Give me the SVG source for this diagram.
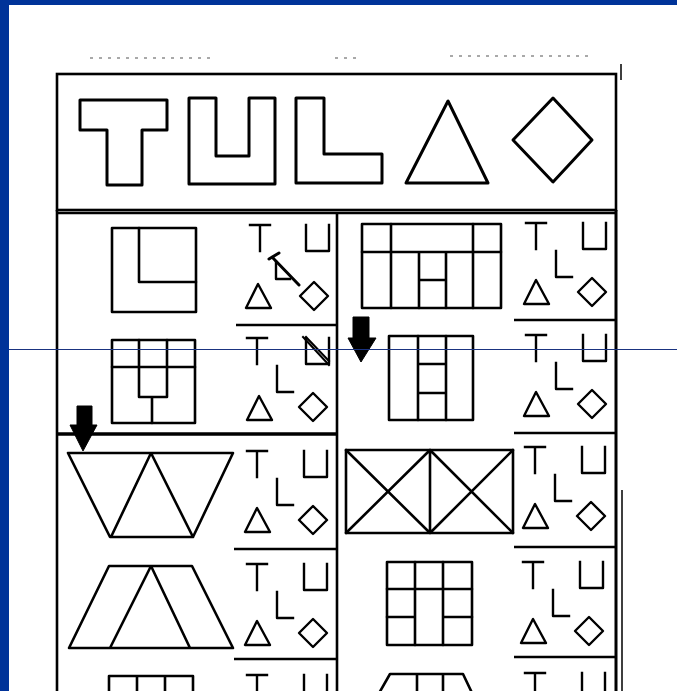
<svg xmlns="http://www.w3.org/2000/svg" xmlns:xlink="http://www.w3.org/1999/xlink" width="677" height="691" viewBox="0 0 677 691">
<style>
.ln{fill:none;stroke:#000;stroke-width:2.6;stroke-linejoin:round;stroke-linecap:round}
.hd{fill:none;stroke:#000;stroke-width:3;stroke-linejoin:round}
.sy{fill:none;stroke:#000;stroke-width:2.4;stroke-linejoin:round;stroke-linecap:square}
.fr{fill:none;stroke:#000;stroke-width:2.6}
.ar{fill:#000;stroke:#000;stroke-width:1}
.nz{fill:none;stroke:#555;stroke-width:1.2;stroke-dasharray:3 6}
</style>
<defs>
<g id="symT"><path class="sy" d="M0,0 H20 M10,0 V26"/></g>
<g id="symU"><path class="sy" d="M0,0 V26 H23 V0"/></g>
<g id="symL"><path class="sy" d="M0,0 V26 H16"/></g>
<g id="symTri"><path class="sy" d="M12,0 L0,24 H25 Z"/></g>
<g id="symDia"><path class="sy" d="M0,-14 L14,0 L0,14 L-14,0 Z"/></g>
<g id="syms">
<use xlink:href="#symT" x="0" y="0"/>
<use xlink:href="#symU" x="57" y="0"/>
<use xlink:href="#symL" x="30" y="28"/>
<use xlink:href="#symTri" x="-2" y="57"/>
<use xlink:href="#symDia" x="66" y="69"/>
</g>
</defs>
<rect width="677" height="691" fill="#fff"/>
<g id="background-frame">
<rect x="0" y="0" width="677" height="5" fill="#003399"/>
<rect x="0" y="0" width="9" height="691" fill="#003399"/>
<path class="nz" d="M90,58 H212 M335,58 H356 M450,56 H592"/>
</g>
<g id="header">
<rect class="fr" x="57" y="74" width="559" height="136"/>
<path class="hd" d="M80,100 H167 V130 H142 V185 H107 V130 H80 Z"/>
<path class="hd" d="M189,98 H216 V156 H249 V98 H275 V184 H189 Z"/>
<path class="hd" d="M296,98 H324 V154 H382 V183 H296 Z"/>
<path class="hd" d="M448,101 L406,183 H488 Z"/>
<path class="hd" d="M553,98 L592,140 L553,182 L513,140 Z"/>
</g>
<g id="grid">
<path class="fr" d="M57,213 H616"/>
<path class="fr" d="M57,210 V691"/>
<path class="fr" d="M616,210 V691" style="stroke-width:3"/>
<path class="fr" d="M337,213 V691"/>
<path class="fr" d="M57,434 H337" style="stroke-width:3.5"/>
<path class="fr" d="M236,325 H337 M234,549 H337 M234,659 H337"/>
<path class="fr" d="M514,320 H616 M514,433 H616 M514,547 H616 M514,657 H616"/>
<path class="fr" d="M622,490 V691 M621,64 V80" style="stroke-width:1.5"/>
</g>
<g id="cell-l1">
<rect class="ln" x="112" y="228" width="84" height="84"/>
<path class="ln" d="M139,228 V282 H196"/>
<use xlink:href="#symT" x="250" y="225"/>
<use xlink:href="#symU" x="306" y="225"/>
<use xlink:href="#symTri" x="246" y="284"/>
<use xlink:href="#symDia" x="314" y="296"/>
<path class="sy" d="M276,262 V279 H290"/>
<path class="ln" d="M272,257 L299,285 M269,259 L279,253" style="stroke-width:3"/>
</g>
<g id="cell-l2">
<rect class="ln" x="112" y="340" width="83" height="83"/>
<path class="ln" d="M112,367 H195 M139,340 V397 H167 V340 M152,397 V423"/>
<use xlink:href="#symT" x="247" y="338"/>
<use xlink:href="#symU" x="306" y="338"/>
<path class="sy" d="M303,337 L329,365 M306,337 L329,361" style="stroke-width:2"/>
<use xlink:href="#symL" x="277" y="366"/>
<use xlink:href="#symTri" x="247" y="396"/>
<use xlink:href="#symDia" x="313" y="407"/>
</g>
<g id="cell-r1">
<rect class="ln" x="362" y="224" width="139" height="84"/>
<path class="ln" d="M362,252 H501 M391,224 V308 M473,224 V308 M419,252 V308 M446,252 V308 M419,280 H446"/>
<use xlink:href="#syms" x="526" y="223"/>
</g>
<g id="cell-r2">
<rect class="ln" x="389" y="336" width="84" height="84"/>
<path class="ln" d="M418,336 V420 M446,336 V420 M418,364 H446 M418,393 H446"/>
<use xlink:href="#syms" x="526" y="335"/>
</g>
<g id="cell-l3">
<path class="ln" d="M68,453 H233 L193,537 H110 Z M151,453 L111,537 M151,453 L193,537"/>
<use xlink:href="#syms" x="247" y="451"/>
</g>
<g id="cell-l4">
<path class="ln" d="M109,566 H192 L233,648 H69 Z M151,566 L110,648 M151,566 L190,648"/>
<use xlink:href="#syms" x="247" y="564"/>
</g>
<g id="cell-r3">
<rect class="ln" x="346" y="450" width="167" height="83"/>
<path class="ln" d="M430,450 V533 M346,450 L430,533 M430,450 L346,533 M430,450 L513,533 M513,450 L430,533"/>
<use xlink:href="#syms" x="525" y="447"/>
</g>
<g id="cell-r4">
<rect class="ln" x="387" y="562" width="85" height="83"/>
<path class="ln" d="M415,562 V645 M443,562 V645 M387,589 H472 M387,617 H415 M443,617 H472"/>
<use xlink:href="#syms" x="523" y="562"/>
</g>
<g id="cell-l5">
<path class="ln" d="M109,700 V676 H193 V700 M137,676 V700 M165,676 V700"/>
<use xlink:href="#syms" x="247" y="675"/>
</g>
<g id="cell-r5">
<path class="ln" d="M378,695 L390,674 H463 L473,695 M417,674 V700 M443,674 V700"/>
<use xlink:href="#syms" x="525" y="673"/>
</g>
<g id="arrows">
<path class="ar" d="M77,406 H92 V425 H97 L83,451 L70,425 H77 Z"/>
<path class="ar" d="M353,317 H369 V338 H376 L361,362 L348,338 H353 Z"/>
</g>
<g id="scan-line">
<path d="M9,349.5 H677" stroke="#1a3380" stroke-width="1"/>
</g>
</svg>
